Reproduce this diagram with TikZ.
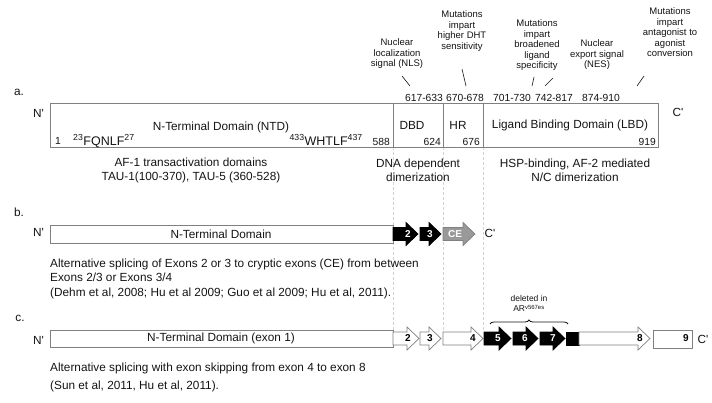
\documentclass[tikz,border=0pt]{standalone}
\usepackage{fontspec}
\setmainfont{Liberation Sans}
\usetikzlibrary{decorations.pathreplacing}
\definecolor{boxgray}{gray}{0.5}
\definecolor{txt}{gray}{0.08}
\definecolor{guidegray}{gray}{0.82}
\definecolor{cegray}{gray}{0.6}
\newcommand\exonarrow[8]{%
  \draw[#5] ({#2},{#4-6.5}) -- ({#3-12},{#4-6.5}) -- ({#3-12},{#4-11.5}) -- ({#3},{#4}) -- ({#3-12},{#4+11.5}) -- ({#3-12},{#4+6.5}) -- ({#2},{#4+6.5}) -- cycle;
  \node[#7] (#1) at ({#6},{#4}) {#8};
}
\begin{document}
\begin{tikzpicture}[x=1pt,y=-1pt,
  every node/.style={text=txt},
  main/.style={font=\fontsize{11.8}{14.5}\selectfont, inner sep=0},
  mid/.style={font=\fontsize{11.8}{14}\selectfont, inner sep=0, align=center},
  small/.style={font=\fontsize{9.5}{10.5}\selectfont, inner sep=0, align=center},
  num/.style={font=\fontsize{10.3}{12}\selectfont, inner sep=0},
  motif/.style={font=\fontsize{12.5}{14}\selectfont, inner sep=0},
  dombox/.style={draw=boxgray, line width=0.8pt, inner sep=0, anchor=north west},
  guide/.style={draw=guidegray, line width=0.6pt, dash pattern=on 3pt off 2pt},
  tick/.style={draw=txt, line width=0.6pt},
  whiteexon/.style={draw=boxgray, fill=white, line width=0.7pt},
  blackexon/.style={draw=black, fill=black, line width=0.7pt},
  ceexon/.style={draw=boxgray, fill=cegray, line width=0.7pt},
  exw/.style={font=\fontsize{10}{12}\selectfont\bfseries, inner sep=0, text=black},
  exb/.style={font=\fontsize{10}{12}\selectfont\bfseries, inner sep=0, text=white},
]
\useasboundingbox (0,0) rectangle (712,402);

% guide lines
\coordinate (g1a) at (393,147); \coordinate (g1b) at (393,330);
\coordinate (g2a) at (443,147); \coordinate (g2b) at (443,330);
\coordinate (g3a) at (483,147); \coordinate (g3b) at (483,330);
\draw[guide] (g1a) -- (g1b);
\draw[guide] (g2a) -- (g2b);
\draw[guide] (g3a) -- (g3b);

% ---------- panel a ----------
\node[main] (pa) at (19,92) {a.};
\node[main] (na) at (38.5,113) {N\textquotesingle};
\node[main] (ca) at (678,112) {C\textquotesingle};

\node[dombox, minimum width=343, minimum height=44] (ntd) at (50,103) {};
\node[dombox, minimum width=50, minimum height=44] (dbd) at (393,103) {};
\node[dombox, minimum width=40, minimum height=44] (hr) at (443,103) {};
\node[dombox, minimum width=175, minimum height=44] (lbd) at (483,103) {};

\node[main] (ntdlab) at (221,127) {N-Terminal Domain (NTD)};
\node[main] (dbdlab) at (412,125) {DBD};
\node[main] (hrlab) at (458,125) {HR};
\node[main] (lbdlab) at (570,125) {Ligand Binding Domain (LBD)};

\node[num, anchor=west] (n1) at (55,141) {1};
\node[motif, anchor=base west] (fqnlf) at (73,145) {\textsuperscript{23}FQNLF\textsuperscript{27}};
\node[motif, anchor=base east] (whtlf) at (363,145) {\textsuperscript{433}WHTLF\textsuperscript{437}};
\node[num, anchor=east] (n588) at (390,142) {588};
\node[num, anchor=east] (n624) at (441,142) {624};
\node[num, anchor=east] (n676) at (480,142) {676};
\node[num, anchor=east] (n919) at (656,142) {919};

\node[num] (r1) at (424,98) {617-633};
\node[num] (r2) at (465,98) {670-678};
\node[num] (r3) at (512,98) {701-730};
\node[num] (r4) at (554,98) {742-817};
\node[num] (r5) at (601,98) {874-910};

\node[small] (nls) at (397,54) {Nuclear\\localization\\signal (NLS)};
\node[small] (dht) at (462,31) {Mutations\\impart\\higher DHT\\sensitivity};
\node[small] (brd) at (537,45.5) {Mutations\\impart\\broadened\\ligand\\specificity};
\node[small] (nes) at (597,55) {Nuclear\\export signal\\(NES)};
\node[small] (ant) at (670,32.5) {Mutations\\impart\\antagonist to\\agonist\\conversion};

\coordinate (t1a) at (402,76); \coordinate (t1b) at (410,86);
\coordinate (t2a) at (462,69); \coordinate (t2b) at (466,86);
\coordinate (t3a) at (534,77); \coordinate (t3b) at (532,86);
\coordinate (t4a) at (553,78); \coordinate (t4b) at (545,86);
\coordinate (t5a) at (644,76); \coordinate (t5b) at (637,86);
\draw[tick] (t1a) -- (t1b);
\draw[tick] (t2a) -- (t2b);
\draw[tick] (t3a) -- (t3b);
\draw[tick] (t4a) -- (t4b);
\draw[tick] (t5a) -- (t5b);

\node[mid] (af1) at (191,170) {AF-1 transactivation domains\\TAU-1(100-370), TAU-5 (360-528)};
\node[mid] (dna) at (418,170) {DNA dependent\\dimerization};
\node[mid] (hsp) at (575,170) {HSP-binding, AF-2 mediated\\N/C dimerization};

% ---------- panel b ----------
\node[main] (pb) at (19,212) {b.};
\node[main] (nb) at (38.5,232) {N\textquotesingle};
\node[dombox, minimum width=343, minimum height=18] (bntd) at (50,225) {};
\node[main] (bntdlab) at (221,234) {N-Terminal Domain};
\exonarrow{bex2}{393}{418}{234}{blackexon}{408}{exb}{2}
\exonarrow{bex3}{420}{441}{234}{blackexon}{430}{exb}{3}
\exonarrow{bce}{443}{475}{234}{ceexon}{455}{exb}{CE}
\node[main] (cb) at (490,233) {C\textquotesingle};
\node[main, anchor=base west] (bt1) at (50,267) {Alternative splicing of Exons 2 or 3 to cryptic exons (CE) from between};
\node[main, anchor=base west] (bt2) at (50,281.5) {Exons 2/3 or Exons 3/4};
\node[main, anchor=base west] (bt3) at (50,296) {(Dehm et al, 2008; Hu et al 2009; Guo et al 2009; Hu et al, 2011).};

% ---------- panel c ----------
\node[main] (pc) at (20,318) {c.};
\node[main] (nc) at (38.5,340) {N\textquotesingle};
\node[dombox, minimum width=343, minimum height=17] (cntd) at (50,330) {};
\node[main] (cntdlab) at (221,338.5) {N-Terminal Domain (exon 1)};
\exonarrow{cex2}{393}{419}{338.5}{whiteexon}{408}{exw}{2}
\exonarrow{cex3}{420}{441}{338.5}{whiteexon}{430}{exw}{3}
\exonarrow{cex4}{443}{483}{338.5}{whiteexon}{473}{exw}{4}
\exonarrow{cex5}{484}{511}{338.5}{blackexon}{498}{exb}{5}
\exonarrow{cex6}{513}{538}{338.5}{blackexon}{525}{exb}{6}
\exonarrow{cex7}{540}{565}{338.5}{blackexon}{553}{exb}{7}
\node[fill=black, draw=black, minimum width=13, minimum height=13, inner sep=0, anchor=west] (crect) at (566,338.5) {};
\exonarrow{cex8}{579}{650}{338.5}{whiteexon}{640}{exw}{8}
\node[dombox, minimum width=39, minimum height=18] (cex9box) at (653,330) {};
\node[exw, anchor=east] (cex9) at (689,338.5) {9};
\node[main] (cc) at (703,339) {C\textquotesingle};

\coordinate (brl) at (490,324); \coordinate (brr) at (568,324);
\draw[decorate, decoration={brace, amplitude=4pt}, line width=0.8pt, draw=txt] (brl) -- (brr);
\node[font=\fontsize{8.5}{10.5}\selectfont, align=center, inner sep=0] (del) at (529,303.5) {deleted in\\AR\textsuperscript{v567es}};

\node[main, anchor=base west] (ct1) at (50,371) {Alternative splicing with exon skipping from exon 4 to exon 8};
\node[main, anchor=base west] (ct2) at (50,389) {(Sun et al, 2011, Hu et al, 2011).};
\end{tikzpicture}
\end{document}
